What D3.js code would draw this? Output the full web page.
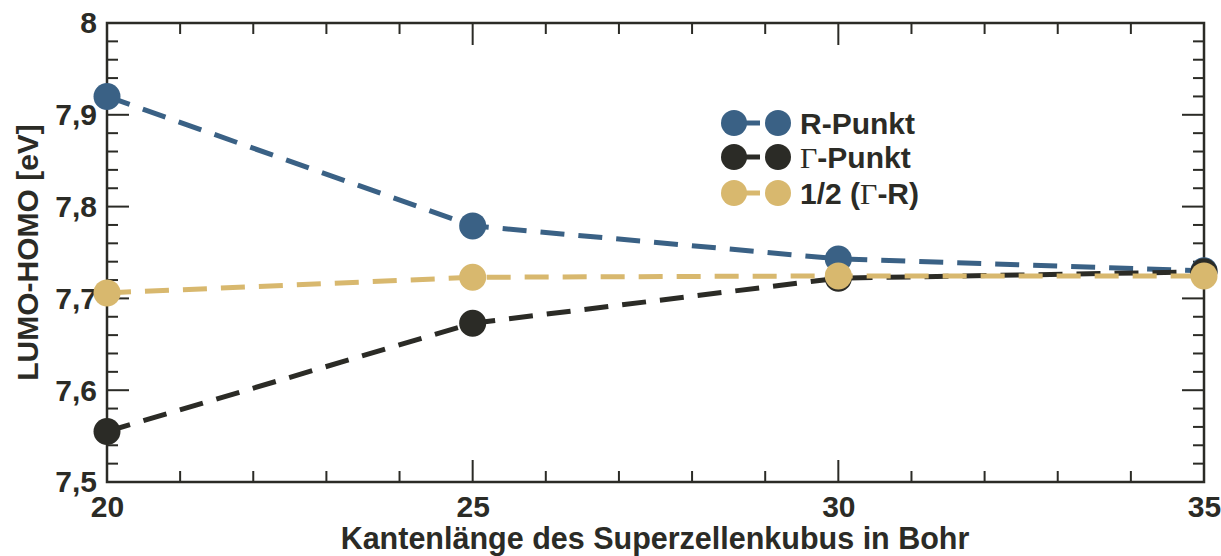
<!DOCTYPE html>
<html>
<head>
<meta charset="utf-8">
<script src="https://cdn.jsdelivr.net/npm/d3@7"></script>
<style>
  html, body { margin: 0; padding: 0; background: #fff; }
  svg { display: block; }
  text { font-family: "Liberation Sans", Arial, sans-serif; font-weight: bold; fill: #2b2b26; }
</style>
</head>
<body>
<svg id="chart" width="1221" height="556"></svg>
<script>
// Edge length of the supercell cube (Bohr)
const edgeLengths = [20, 25, 30, 35];
// LUMO-HOMO gap in eV
const rPoint     = [7.920, 7.779, 7.743, 7.730];
const gammaPoint = [7.555, 7.673, 7.722, 7.729];
const halfGammaR = [7.706, 7.723, 7.7245, 7.7245];

const xTicks = [20, 25, 30, 35];
const yTicks = [7.5, 7.6, 7.7, 7.8, 7.9, 8];

const series = [
  { name: "R", values: rPoint, color: "#3a6185" },
  { name: "G", values: gammaPoint, color: "#2b2b26" },
  { name: "H", values: halfGammaR, color: "#d8b86e" }
];

const svg = d3.select("#chart");
const W = 1221, H = 556;
const m = { left: 107, right: W - 1204, top: 23, bottom: H - 482 };
const x = d3.scaleLinear().domain([20, 35]).range([m.left, W - m.right]);
const y = d3.scaleLinear().domain([7.5, 8]).range([H - m.bottom, m.top]);

const axisColor = "#2b2b26";
const fmt = d => d === 8 ? "8" : d3.format(".1f")(d).replace(".", ",");
const FS = "30px";

// ticks (inward) on all four sides
const g = svg.append("g");
const minorX = d3.range(20, 35.001, 1);
const minorY = d3.range(7.5, 8.0001, 0.02);
minorX.forEach(v => {
  const len = xTicks.includes(v) ? 22 : 11;
  g.append("line").attr("x1", x(v)).attr("x2", x(v)).attr("y1", y(7.5)).attr("y2", y(7.5) - len)
    .attr("stroke", axisColor).attr("stroke-width", 2);
  g.append("line").attr("x1", x(v)).attr("x2", x(v)).attr("y1", y(8)).attr("y2", y(8) + len)
    .attr("stroke", axisColor).attr("stroke-width", 2);
});
minorY.forEach(v => {
  const major = Math.abs(Math.round(v * 10) - v * 10) < 1e-6;
  const len = major ? 22 : 11;
  g.append("line").attr("x1", x(20)).attr("x2", x(20) + len).attr("y1", y(v)).attr("y2", y(v))
    .attr("stroke", axisColor).attr("stroke-width", 2);
  g.append("line").attr("x1", x(35)).attr("x2", x(35) - len).attr("y1", y(v)).attr("y2", y(v))
    .attr("stroke", axisColor).attr("stroke-width", 2);
});

// frame
g.append("rect").attr("x", x(20)).attr("y", y(8)).attr("width", x(35) - x(20)).attr("height", y(7.5) - y(8))
  .attr("fill", "none").attr("stroke", axisColor).attr("stroke-width", 2.5);

// tick labels
const yAxis = d3.axisLeft(y).tickValues(yTicks).tickFormat(fmt).tickSize(0).tickPadding(10);
const ya = svg.append("g").attr("transform", `translate(${x(20)},0)`).call(yAxis);
ya.select(".domain").remove();
ya.selectAll("text").style("font-size", FS).style("font-family", "Liberation Sans, Arial, sans-serif")
  .style("font-weight", "bold").attr("fill", axisColor).attr("dy", "0.33em");

const xAxis = d3.axisBottom(x).tickValues(xTicks).tickFormat(d3.format("d")).tickSize(0).tickPadding(0);
const xa = svg.append("g").attr("transform", `translate(0,${y(7.5)})`).call(xAxis);
xa.select(".domain").remove();
xa.selectAll("text").style("font-size", FS).style("font-family", "Liberation Sans, Arial, sans-serif")
  .style("font-weight", "bold").attr("fill", axisColor).attr("y", 35).attr("dy", null);

// axis titles
svg.append("text").attr("x", 655).attr("y", 549).attr("text-anchor", "middle")
  .style("font-size", "30.5px").text("Kantenlänge des Superzellenkubus in Bohr");
svg.append("text").attr("transform", `translate(38,${(y(7.5) + y(8)) / 2}) rotate(-90)`)
  .attr("text-anchor", "middle").style("font-size", FS).text("LUMO-HOMO [eV]");

// series
const line = d3.line().x((d, i) => x(edgeLengths[i])).y(d => y(d));
series.forEach(s => {
  const sg = svg.append("g");
  sg.append("path").datum(s.values).attr("d", line).attr("fill", "none")
    .attr("stroke", s.color).attr("stroke-width", 5).attr("stroke-dasharray", "24,14");
  sg.selectAll("circle").data(s.values).join("circle")
    .attr("cx", (d, i) => x(edgeLengths[i])).attr("cy", d => y(d)).attr("r", 13.5)
    .attr("fill", s.color);
});

// legend
const legend = svg.append("g");
const ly = [123, 157, 193];
series.forEach((s, i) => {
  const row = legend.append("g").attr("transform", `translate(0,${ly[i]})`);
  row.append("line").attr("x1", 734).attr("x2", 760).attr("y1", 0).attr("y2", 0)
    .attr("stroke", s.color).attr("stroke-width", 5);
  row.append("circle").attr("cx", 734).attr("cy", 0).attr("r", 13).attr("fill", s.color);
  row.append("circle").attr("cx", 778).attr("cy", 0).attr("r", 13).attr("fill", s.color);
  const t = row.append("text").attr("x", 800).attr("y", 11).style("font-size", FS);
  if (s.name === "R") {
    t.text("R-Punkt");
  } else if (s.name === "G") {
    t.append("tspan").style("font-family", "Liberation Serif, serif").style("font-weight", "normal").text("Γ");
    t.append("tspan").text("-Punkt");
  } else {
    t.append("tspan").text("1/2 (");
    t.append("tspan").style("font-family", "Liberation Serif, serif").style("font-weight", "normal").text("Γ");
    t.append("tspan").text("-R)");
  }
});
</script>
</body>
</html>
